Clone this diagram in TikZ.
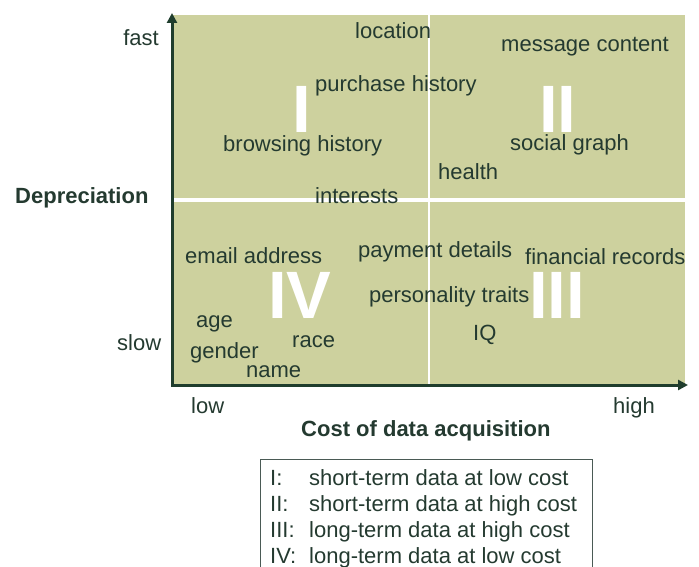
\documentclass[tikz,border=0pt]{standalone}
\usepackage{fontspec}
\setmainfont{Liberation Sans}
\usetikzlibrary{arrows.meta}

\definecolor{panel}{HTML}{CDD19E}
\definecolor{ink}{HTML}{243A30}
\definecolor{axisgreen}{HTML}{1F3D2D}
\definecolor{frame}{HTML}{4A5A55}

\tikzset{
    item/.style={anchor=base west, inner sep=0pt, text=ink, font=\fontsize{22}{26}\selectfont},
    axislabel/.style={item, font=\fontsize{22}{26}\selectfont\bfseries},
    numeral/.style={anchor=base west, inner sep=0pt, text depth=0pt, text=white, font=\fontsize{67}{70}\selectfont\bfseries},
}

\begin{document}
\begin{tikzpicture}[x=1pt, y=-1pt]
    \useasboundingbox (0,0) rectangle (699,567);
    \clip (0,0) rectangle (699,567);

    % Quadrant panel
    \fill[panel] (172,15) rectangle (685,385);
    \draw[white, line width=3.5pt] (172,200) -- (685,200);
    \draw[white, line width=1.5pt] (429,15) -- (429,385);

    % Axes
    \coordinate (ytip) at (172,13);
    \coordinate (origin) at (172,385);
    \coordinate (xtip) at (688,385);
    \draw[axisgreen, line width=3pt, line join=miter,
        {Triangle[length=10pt,width=10pt]}-{Triangle[length=10pt,width=10pt]}] (ytip) -- (origin) -- (xtip);

    % Axis labels
    \node[item, anchor=base east] (fast) at (159,46) {fast};
    \node[item] (slow) at (117,350) {slow};
    \node[axislabel] (depr) at (15,204) {Depreciation};
    \node[item] (low) at (191,413) {low};
    \node[item] (high) at (613,413) {high};
    \node[axislabel] (cost) at (301,436) {Cost of data acquisition};

    % Quadrant numerals
    \node[numeral] (qI) at (292,133) {I};
    \node[numeral] (qII) at (539,133) {II};
    \node[numeral] (qIII) at (529,318) {III};
    \node[numeral] (qIV) at (268,318) {IV};

    % Data types
    \foreach \n/\x/\y/\txt in {
        location/355/39/location,
        message/501/52/message content,
        purchase/315/92/purchase history,
        browsing/223/152/browsing history,
        social/510/151/social graph,
        health/438/179/health,
        interests/315/204/interests,
        email/185/263/email address,
        payment/358/257/payment details,
        financial/525/264/financial records,
        personality/369/302/personality traits,
        iq/473/340/IQ,
        age/196/327/age,
        race/292/347/race,
        gender/190/358/gender,
        name/246/377/name}
        \node[item] (\n) at (\x,\y) {\txt};

    % Legend
    \node[draw=frame, line width=1pt, anchor=north west, inner sep=0pt,
        minimum width=332pt, minimum height=140pt] (legend) at (260,459) {};
    \foreach \k/\t [count=\i] in {
        I:/short-term data at low cost,
        II:/short-term data at high cost,
        III:/long-term data at high cost,
        IV:/long-term data at low cost} {
        \node[item] (key\i) at (270,459+26*\i) {\k};
        \node[item] (txt\i) at (309,459+26*\i) {\t};
    }
\end{tikzpicture}
\end{document}
